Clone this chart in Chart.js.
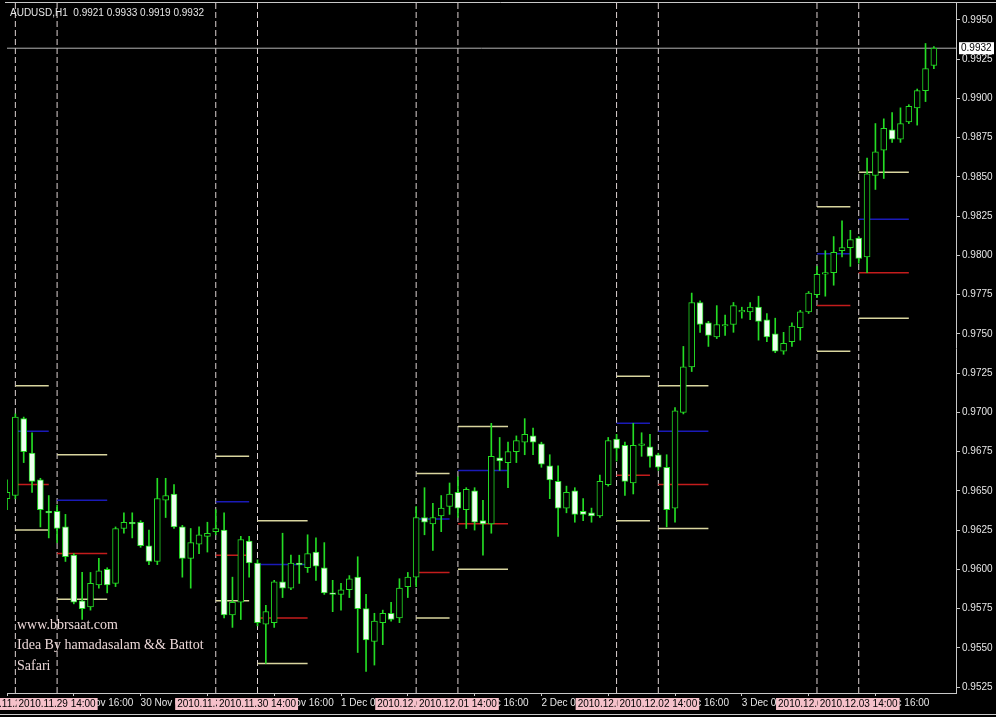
<!DOCTYPE html>
<html>
<head>
<meta charset="utf-8">
<script src="https://cdn.jsdelivr.net/npm/chart.js"></script>
<style>
  html, body { margin: 0; padding: 0; background: #000; }
  #wrap { width: 996px; height: 717px; position: relative; }
</style>
</head>
<body>
<div id="wrap"><canvas id="chart"></canvas></div>
<script>
// AUDUSD H1, one bar per hour starting 29 Nov 2010 08:00
const symbol = 'AUDUSD,H1';
const firstBar = Date.UTC(2010, 10, 29, 8);

const openPrices = [
  0.9645,0.9647,0.9696,0.9674,0.9657,0.9637,0.9637,0.9627,0.9609,0.9580,
  0.9576,0.9590,0.9600,0.9591,0.9626,0.9630,0.9630,0.9615,0.9605,0.9644,
  0.9648,0.9627,0.9607,0.9616,0.9621,0.9624,0.9625,0.9571,0.9579,0.9618,
  0.9604,0.9565,0.9566,0.9592,0.9588,0.9604,0.9601,0.9611,0.9601,0.9585,
  0.9584,0.9587,0.9595,0.9575,0.9554,0.9566,0.9572,0.9569,0.9589,0.9595,
  0.9633,0.9629,0.9634,0.9640,0.9649,0.9638,0.9650,0.9631,0.9629,0.9671,
  0.9668,0.9675,0.9681,0.9685,0.9680,0.9666,0.9656,0.9639,0.9650,0.9637,
  0.9636,0.9634,0.9654,0.9683,0.9679,0.9655,0.9679,0.9678,0.9673,0.9665,
  0.9639,0.9700,0.9729,0.9770,0.9757,0.9748,0.9755,0.9756,0.9764,0.9764,
  0.9767,0.9759,0.9750,0.9739,0.9745,0.9754,0.9764,0.9775,0.9788,0.9789,
  0.9803,0.9805,0.9811,0.9799,0.9851,0.9867,0.9880,0.9874,0.9885,0.9894,
  0.9905,0.9921
];
const highPrices = [
  0.9657,0.9699,0.9697,0.9687,0.9658,0.9647,0.9641,0.9635,0.9610,0.9598,
  0.9598,0.9607,0.9601,0.9627,0.9636,0.9636,0.9631,0.9625,0.9658,0.9658,
  0.9654,0.9628,0.9626,0.9627,0.9630,0.9638,0.9636,0.9595,0.9621,0.9621,
  0.9606,0.9577,0.9593,0.9623,0.9609,0.9609,0.9622,0.9620,0.9617,0.9593,
  0.9591,0.9596,0.9608,0.9584,0.9572,0.9574,0.9579,0.9594,0.9598,0.9640,
  0.9652,0.9642,0.9647,0.9655,0.9659,0.9652,0.9652,0.9644,0.9693,0.9684,
  0.9681,0.9685,0.9696,0.9690,0.9681,0.9673,0.9666,0.9653,0.9652,0.9645,
  0.9639,0.9660,0.9684,0.9686,0.9681,0.9693,0.9687,0.9686,0.9674,0.9673,
  0.9703,0.9742,0.9776,0.9771,0.9758,0.9768,0.9762,0.9770,0.9767,0.9770,
  0.9774,0.9763,0.9760,0.9751,0.9757,0.9765,0.9777,0.9793,0.9803,0.9812,
  0.9822,0.9816,0.9812,0.9862,0.9884,0.9887,0.9891,0.9894,0.9896,0.9906,
  0.9935,0.9933
];
const lowPrices = [
  0.9638,0.9645,0.9668,0.9649,0.9627,0.9620,0.9617,0.9605,0.9578,0.9568,
  0.9574,0.9588,0.9585,0.9589,0.9623,0.9620,0.9614,0.9603,0.9603,0.9633,
  0.9626,0.9595,0.9588,0.9610,0.9611,0.9622,0.9569,0.9563,0.9568,0.9595,
  0.9564,0.9540,0.9563,0.9582,0.9587,0.9591,0.9598,0.9593,0.9584,0.9573,
  0.9574,0.9582,0.9547,0.9535,0.9539,0.9552,0.9567,0.9566,0.9582,0.9589,
  0.9622,0.9612,0.9624,0.9635,0.9633,0.9626,0.9625,0.9609,0.9623,0.9663,
  0.9652,0.9668,0.9673,0.9673,0.9665,0.9645,0.9621,0.9636,0.9630,0.9631,
  0.9630,0.9633,0.9653,0.9669,0.9647,0.9648,0.9672,0.9665,0.9663,0.9627,
  0.9630,0.9699,0.9726,0.9751,0.9742,0.9747,0.9749,0.9751,0.9760,0.9759,
  0.9746,0.9745,0.9738,0.9737,0.9742,0.9746,0.9763,0.9773,0.9774,0.9781,
  0.9799,0.9793,0.9795,0.9789,0.9842,0.9849,0.9872,0.9872,0.9884,0.9883,
  0.9898,0.9919
];
const closePrices = [
  0.9649,0.9697,0.9675,0.9656,0.9638,0.9636,0.9626,0.9608,0.9579,0.9575,
  0.9591,0.9599,0.9590,0.9626,0.9630,0.9629,0.9615,0.9605,0.9645,0.9647,
  0.9627,0.9607,0.9617,0.9622,0.9623,0.9626,0.9571,0.9579,0.9619,0.9604,
  0.9566,0.9573,0.9592,0.9588,0.9604,0.9603,0.9610,0.9602,0.9585,0.9584,
  0.9587,0.9594,0.9575,0.9555,0.9567,0.9572,0.9568,0.9588,0.9595,0.9633,
  0.9630,0.9633,0.9639,0.9648,0.9639,0.9651,0.9630,0.9629,0.9672,0.9669,
  0.9675,0.9682,0.9686,0.9681,0.9667,0.9657,0.9639,0.9649,0.9635,0.9635,
  0.9634,0.9656,0.9682,0.9677,0.9656,0.9679,0.9680,0.9672,0.9665,0.9638,
  0.9701,0.9729,0.9770,0.9756,0.9749,0.9756,0.9756,0.9768,0.9765,0.9767,
  0.9758,0.9748,0.9739,0.9744,0.9755,0.9764,0.9776,0.9788,0.9789,0.9802,
  0.9805,0.9810,0.9798,0.9852,0.9866,0.9881,0.9874,0.9884,0.9895,0.9905,
  0.9919,0.9932
];

const priceTicks = [0.9525, 0.9550, 0.9575, 0.9600, 0.9625, 0.9650, 0.9675, 0.9700, 0.9725,
  0.9750, 0.9775, 0.9800, 0.9825, 0.9850, 0.9875, 0.9900, 0.9925, 0.9950];
const timeTickBars = [0, 8, 16, 24, 32, 40, 48, 56, 64, 72, 80, 88, 96, 104];

// vertical marker lines and the levels drawn from each of them
const markerTimes = ['2010.11.29 09:00', '2010.11.29 14:00', '2010.11.30 09:00', '2010.11.30 14:00',
  '2010.12.01 09:00', '2010.12.01 14:00', '2010.12.02 09:00', '2010.12.02 14:00',
  '2010.12.03 09:00', '2010.12.03 14:00'];
const markerHours = [4, 6, 4, 6, 4, 6, 4, 6, 4, 6];
const levelUpper = [0.9717, 0.9673, 0.9672, 0.9631, 0.9661, 0.9691, 0.9723, 0.9717, 0.9831, 0.9853];
const levelBlue  = [0.9688, 0.9644, 0.9643, 0.9603, 0.9632, 0.9663, 0.9693, 0.9688, 0.9801, 0.9823];
const levelRed   = [0.9654, 0.9610, 0.9609, 0.9569, 0.9598, 0.9629, 0.9660, 0.9654, 0.9768, 0.9789];
const levelLower = [0.9625, 0.9581, 0.9580, 0.9540, 0.9569, 0.9600, 0.9631, 0.9626, 0.9739, 0.9760];

const watermark = ['www.bbrsaat.com', 'Idea By hamadasalam && Battot', 'Safari'];

const yMin = 0.95212, yMax = 0.99608;
const months = ['Jan','Feb','Mar','Apr','May','Jun','Jul','Aug','Sep','Oct','Nov','Dec'];
const pad = n => String(n).padStart(2, '0');

function axisLabel(i) {
  const d = new Date(firstBar + i * 3600000);
  return `${d.getUTCDate()} ${months[d.getUTCMonth()]} ${pad(d.getUTCHours())}:${pad(d.getUTCMinutes())}`;
}
function barOf(stamp) {
  const [date, time] = stamp.split(' ');
  const [y, m, d] = date.split('.').map(Number);
  const [hh, mm] = time.split(':').map(Number);
  return (Date.UTC(y, m - 1, d, hh, mm) - firstBar) / 3600000;
}
function levelSeries(levels) {
  const pts = [];
  markerTimes.forEach((t, k) => {
    const b = barOf(t);
    pts.push({ x: b, y: levels[k] }, { x: b + markerHours[k], y: levels[k] }, { x: b + markerHours[k], y: null });
  });
  return pts;
}

const bodyData = openPrices.map((o, i) => ({ x: i, y: [o, closePrices[i]] }));
const wickData = highPrices.map((h, i) => ({ x: i, y: [lowPrices[i], h] }));
const bodyFill = openPrices.map((o, i) => closePrices[i] >= o ? '#000000' : '#effff0');
const markerData = [];
markerTimes.forEach(t => {
  const b = barOf(t);
  markerData.push({ x: b, y: yMin }, { x: b, y: yMax }, { x: b, y: null });
});
const last = closePrices.length - 1;
const lastClose = closePrices[last];

const lime = '#24dc24';
const axisFont = { family: 'Liberation Sans', size: 10 };

const mt4Decor = {
  id: 'mt4Decor',
  beforeDraw(chart) {
    const { ctx, width } = chart;
    ctx.save();
    ctx.fillStyle = '#000';
    ctx.fillRect(0, 0, width, chart.height);
    ctx.strokeStyle = '#c8c8c8';
    ctx.lineWidth = 1;
    ctx.beginPath();
    ctx.moveTo(5, 2.5); ctx.lineTo(width, 2.5);
    ctx.moveTo(0, 714.5); ctx.lineTo(width, 714.5);
    ctx.stroke();
    ctx.restore();
  },
  afterDraw(chart) {
    const { ctx } = chart;
    const xs = chart.scales.x, ys = chart.scales.y;
    ctx.save();
    ctx.font = '10px "Liberation Sans"';
    ctx.textBaseline = 'middle';

    // time stamps of the marker lines on the time axis
    ctx.textAlign = 'center';
    markerTimes.forEach(t => {
      const px = xs.getPixelForValue(barOf(t));
      const w = ctx.measureText(t).width + 4;
      ctx.fillStyle = '#f5c1ca';
      ctx.fillRect(px - w / 2, 698, w, 12);
      ctx.fillStyle = '#000';
      ctx.fillText(t, px, 704);
    });

    // current price tag
    const py = ys.getPixelForValue(lastClose);
    ctx.fillStyle = '#ffffff';
    ctx.fillRect(959, py - 6, 35, 12);
    ctx.fillStyle = '#000';
    ctx.textAlign = 'left';
    ctx.fillText(lastClose.toFixed(4), 961, py + 0.5);

    // symbol header with the last bar values
    const title = `${symbol}  ${openPrices[last].toFixed(4)} ${highPrices[last].toFixed(4)} ` +
      `${lowPrices[last].toFixed(4)} ${closePrices[last].toFixed(4)}`;
    ctx.fillStyle = '#e6e6e6';
    ctx.fillText(title, 10, 13.5);

    ctx.font = '14px "Liberation Serif"';
    ctx.fillStyle = '#ecd8d8';
    watermark.forEach((s, k) => ctx.fillText(s, 17, 625 + k * 20.5));
    ctx.restore();
  }
};

new Chart(document.getElementById('chart'), {
  type: 'bar',
  data: {
    datasets: [
      {
        label: 'body', data: bodyData, order: 0, grouped: false,
        barThickness: 6, backgroundColor: bodyFill, borderColor: lime,
        borderWidth: 1, borderSkipped: false
      },
      {
        label: 'wick', data: wickData, order: 1, grouped: false,
        barThickness: 1, backgroundColor: lime, borderWidth: 0
      },
      {
        type: 'line', label: 'price', order: 2,
        data: [{ x: -1, y: lastClose }, { x: 120, y: lastClose }],
        borderColor: '#b4b4b4', borderWidth: 1, pointRadius: 0
      },
      {
        type: 'line', label: 'upper', order: 3, data: levelSeries(levelUpper),
        borderColor: '#d9d59f', borderWidth: 1.5, pointRadius: 0, spanGaps: false
      },
      {
        type: 'line', label: 'blue', order: 3, data: levelSeries(levelBlue),
        borderColor: '#1a1ab8', borderWidth: 1.5, pointRadius: 0, spanGaps: false
      },
      {
        type: 'line', label: 'red', order: 3, data: levelSeries(levelRed),
        borderColor: '#c41c1c', borderWidth: 1.5, pointRadius: 0, spanGaps: false
      },
      {
        type: 'line', label: 'lower', order: 3, data: levelSeries(levelLower),
        borderColor: '#d9d59f', borderWidth: 1.5, pointRadius: 0, spanGaps: false
      },
      {
        type: 'line', label: 'markers', order: 4, data: markerData,
        borderColor: '#ddd2d2', borderWidth: 1, borderDash: [6, 3], pointRadius: 0, spanGaps: false
      }
    ]
  },
  options: {
    responsive: true,
    maintainAspectRatio: false,
    animation: false,
    devicePixelRatio: 1,
    layout: { padding: { left: 7, top: 3, right: 0, bottom: 0 } },
    plugins: { legend: { display: false }, tooltip: { enabled: false }, title: { display: false } },
    scales: {
      x: {
        type: 'linear', min: 0, max: 113.65, offset: false,
        afterBuildTicks: s => { s.ticks = timeTickBars.map(v => ({ value: v })); },
        afterFit: s => { s.height = 24; s.paddingLeft = 0; s.paddingRight = 0; },
        ticks: {
          align: 'start', padding: 1, color: '#e6e6e6', font: axisFont,
          maxRotation: 0, autoSkip: false, callback: v => axisLabel(v)
        },
        grid: { drawOnChartArea: false, drawTicks: true, tickLength: 3, color: '#c8c8c8', offset: false },
        border: { display: true, color: '#c8c8c8' }
      },
      y: {
        position: 'right', min: yMin, max: yMax,
        afterBuildTicks: s => { s.ticks = priceTicks.map(v => ({ value: v })); },
        afterFit: s => { s.width = 40; s.paddingTop = 0; s.paddingBottom = 0; },
        ticks: { padding: 2, color: '#e6e6e6', font: axisFont, autoSkip: false, callback: v => v.toFixed(4) },
        grid: { drawOnChartArea: false, drawTicks: true, tickLength: 4, color: '#c8c8c8' },
        border: { display: true, color: '#c8c8c8' }
      }
    }
  },
  plugins: [mt4Decor]
});
</script>
</body>
</html>
